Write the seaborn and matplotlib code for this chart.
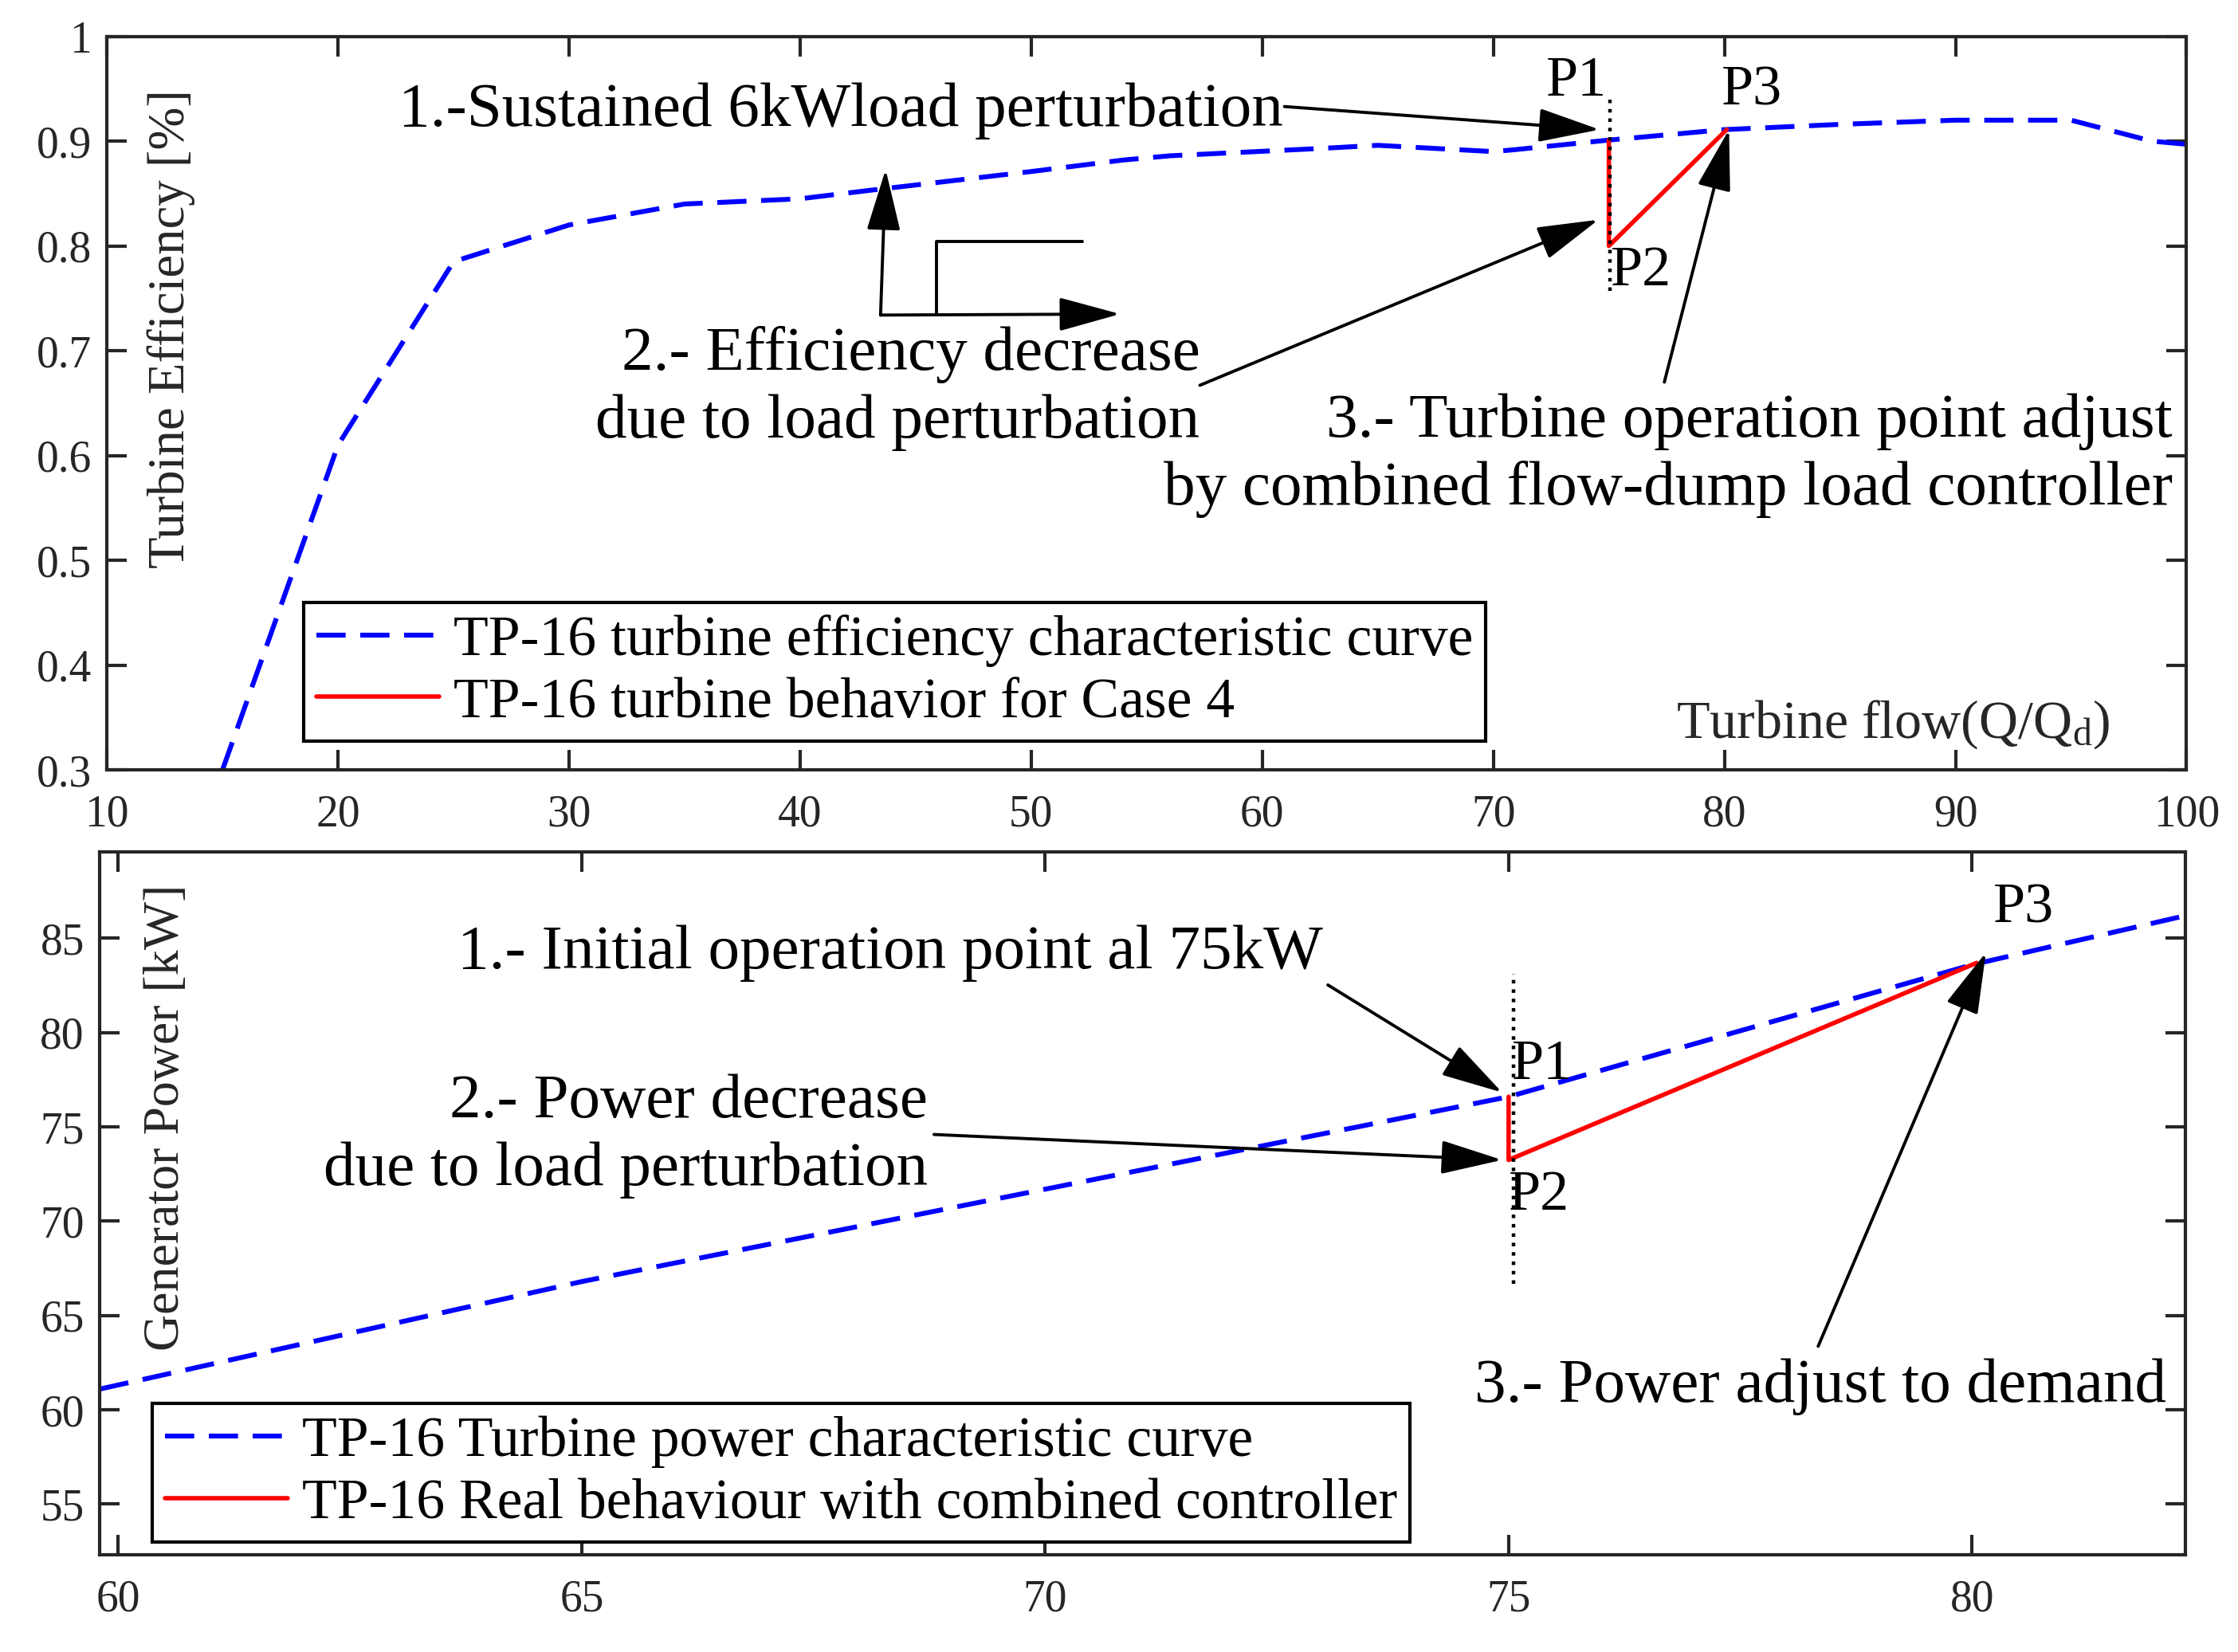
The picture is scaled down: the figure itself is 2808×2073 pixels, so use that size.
import matplotlib
matplotlib.use("Agg")
import matplotlib.pyplot as plt
import seaborn as sns

# Top panel: TP-16 efficiency characteristic (relative flow in %)
eff_flow = [15, 20, 25, 30, 35, 40, 43, 50, 54, 56, 62.5, 65, 70, 71, 75, 80, 85, 90, 95, 98.5, 100]
eff_value = [0.30, 0.61, 0.785, 0.82, 0.84, 0.845, 0.853, 0.871, 0.882, 0.886, 0.893, 0.896,
             0.89, 0.892, 0.901, 0.911, 0.916, 0.92, 0.92, 0.90, 0.897]
case4_flow = [75, 75, 80.1]
case4_eff = [0.901, 0.80, 0.911]

# Bottom panel: generator power characteristic
power_flow = [59.8, 65, 70, 75, 80, 82.3]
power_value = [61.1, 66.8, 71.7, 76.6, 83.6, 86.2]
real_flow = [75, 75, 80.05]
real_power = [76.6, 73.25, 83.7]

sns.set_style("ticks")
plt.rcParams["font.family"] = ["Liberation Serif", "DejaVu Serif"]
plt.rcParams["text.color"] = "black"
plt.rcParams["mathtext.fontset"] = "custom"
plt.rcParams["mathtext.rm"] = "Liberation Serif"
plt.rcParams["mathtext.it"] = "Liberation Serif:italic"

AX_COL = "#262626"
ANN_FS = 28.5
LEG_FS = 25.8
LSP = 1.24
arrow_kw = dict(arrowstyle="-|>,head_length=1.2,head_width=0.33", color="black",
                lw=1.4, shrinkA=0, shrinkB=0, mutation_scale=20)

fig = plt.figure(figsize=(14.04, 10.365), dpi=200)
ax1 = fig.add_axes([0.0478, 0.534, 0.9292, 0.444])
ax2 = fig.add_axes([0.0446, 0.0587, 0.9318, 0.4258])


def style_axes(ax):
    ax.tick_params(direction="in", top=True, right=True, length=9, width=1.5,
                   labelsize=20, colors=AX_COL, labelcolor=AX_COL)
    ax.tick_params(axis="x", pad=11)
    ax.tick_params(axis="y", pad=7)
    for sp in ax.spines.values():
        sp.set_visible(True)
        sp.set_color(AX_COL)
        sp.set_linewidth(1.5)
    ax.set_xlabel("")
    ax.set_ylabel("")


def add_legend(ax, anchor):
    leg = ax.legend(loc="lower left", bbox_to_anchor=anchor, fontsize=LEG_FS,
                    frameon=True, fancybox=False, edgecolor="black", framealpha=1,
                    handlelength=2.15, borderpad=0.22, labelspacing=0.17,
                    handletextpad=0.25, borderaxespad=0, labelcolor="black")
    leg.get_frame().set_linewidth(1.5)
    return leg


# ---------------- top panel ----------------
sns.lineplot(x=eff_flow, y=eff_value, ax=ax1, color="#0000FF", lw=2.2,
             linestyle=(0, (6, 3)), sort=False, estimator=None,
             label="TP-16 turbine efficiency characteristic curve")
sns.lineplot(x=case4_flow, y=case4_eff, ax=ax1, color="#FF0000", lw=2.0,
             sort=False, estimator=None, label="TP-16 turbine behavior for Case 4")
ax1.plot([75.06, 75.06], [0.757, 0.945], color="black", ls=":", lw=1.6)

ax1.set_xlim(10, 100)
ax1.set_ylim(0.3, 1)
ax1.set_xticks(range(10, 101, 10))
ax1.set_yticks([0.3, 0.4, 0.5, 0.6, 0.7, 0.8, 0.9, 1])
ax1.set_yticklabels(["0.3", "0.4", "0.5", "0.6", "0.7", "0.8", "0.9", "1"])
style_axes(ax1)

ax1.text(0.031, 0.928, "Turbine Efficiency [%]", transform=ax1.transAxes, rotation=90,
         ha="center", va="top", fontsize=23.3, color=AX_COL)
ax1.text(77.9, 0.331, "Turbine flow(Q/Q$_\\mathrm{d}$)", fontsize=24.5, color=AX_COL,
         ha="left", va="baseline")

ax1.text(60.9, 0.929, "1.-Sustained 6kWload perturbation", fontsize=ANN_FS,
         ha="right", va="center")
ax1.annotate("", xy=(74.6, 0.911), xytext=(60.96, 0.933), arrowprops=arrow_kw)

ax1.text(57.3, 0.664, "2.- Efficiency decrease\ndue to load perturbation", fontsize=ANN_FS,
         ha="right", va="center", multialignment="right", linespacing=LSP)
ax1.annotate("", xy=(74.55, 0.825), xytext=(57.3, 0.667), arrowprops=arrow_kw)

ax1.text(99.4, 0.60, "3.- Turbine operation point adjust\nby combined flow-dump load controller",
         fontsize=ANN_FS, ha="right", va="center", multialignment="right", linespacing=LSP)
ax1.annotate("", xy=(80.2, 0.911), xytext=(77.4, 0.67), arrowprops=arrow_kw)

# small load-step sketch
ax1.plot([45.9, 45.9, 52.2], [0.736, 0.804, 0.804], color="black", lw=1.4)
ax1.annotate("", xy=(43.7, 0.873), xytext=(43.48, 0.734), arrowprops=arrow_kw)
ax1.annotate("", xy=(53.85, 0.735), xytext=(43.48, 0.734), arrowprops=arrow_kw)

ax1.text(73.6, 0.957, "P1", fontsize=26, ha="center", va="center")
ax1.text(76.4, 0.776, "P2", fontsize=26, ha="center", va="center")
ax1.text(81.2, 0.948, "P3", fontsize=26, ha="center", va="center")

add_legend(ax1, (0.0947, 0.0388))

# ---------------- bottom panel ----------------
sns.lineplot(x=power_flow, y=power_value, ax=ax2, color="#0000FF", lw=2.2,
             linestyle=(0, (6, 3)), sort=False, estimator=None,
             label="TP-16 Turbine power characteristic curve")
sns.lineplot(x=real_flow, y=real_power, ax=ax2, color="#FF0000", lw=2.0,
             sort=False, estimator=None,
             label="TP-16 Real behaviour with combined controller")
ax2.plot([75.05, 75.05], [66.7, 83.1], color="black", ls=":", lw=1.6)

ax2.set_xlim(59.8, 82.3)
ax2.set_ylim(52.3, 89.6)
ax2.set_xticks([60, 65, 70, 75, 80])
ax2.set_yticks([55, 60, 65, 70, 75, 80, 85])
style_axes(ax2)

ax2.text(0.032, 0.953, "Generator Power [kW]", transform=ax2.transAxes, rotation=90,
         ha="center", va="top", fontsize=23, color=AX_COL)

ax2.text(68.33, 84.2, "1.- Initial operation point al 75kW", fontsize=ANN_FS,
         ha="center", va="center")
ax2.annotate("", xy=(74.93, 76.83), xytext=(73.05, 82.53), arrowprops=arrow_kw)

ax2.text(68.73, 74.5, "2.- Power decrease\ndue to load perturbation", fontsize=ANN_FS,
         ha="right", va="center", multialignment="right", linespacing=LSP)
ax2.annotate("", xy=(74.93, 73.25), xytext=(68.8, 74.6), arrowprops=arrow_kw)

ax2.text(82.1, 61.2, "3.- Power adjust to demand", fontsize=ANN_FS, ha="right", va="center")
ax2.annotate("", xy=(80.15, 84.25), xytext=(78.34, 63.37), arrowprops=arrow_kw)

ax2.text(75.36, 78.3, "P1", fontsize=26, ha="center", va="center")
ax2.text(75.33, 71.37, "P2", fontsize=26, ha="center", va="center")
ax2.text(80.56, 86.6, "P3", fontsize=26, ha="center", va="center")

add_legend(ax2, (0.0253, 0.018))

fig.savefig("out.png", dpi=200, facecolor="white")
